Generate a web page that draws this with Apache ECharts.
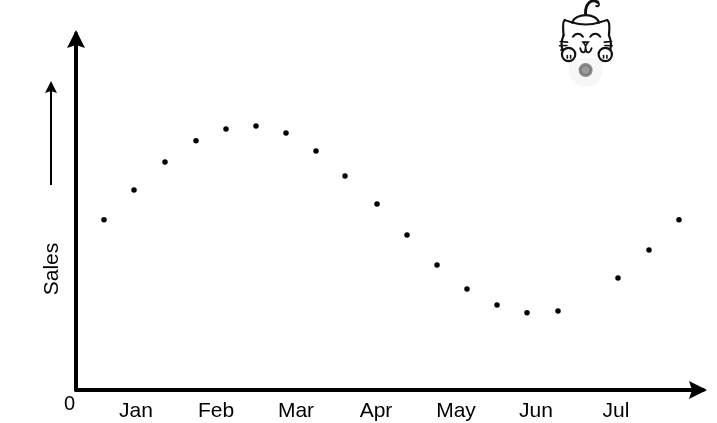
<!DOCTYPE html>
<html><head><meta charset="utf-8">
<style>html,body{margin:0;padding:0;background:#fff}#c{width:717px;height:423px}</style>
<script src="https://cdn.jsdelivr.net/npm/echarts@6/dist/echarts.min.js"></script>
</head><body><div id="c"></div>
<script>
const months = ['Jan','Feb','Mar','Apr','May','Jun','Jul'];
const monthPos = [1,2,3,4,5,6,7];
const xValues = [0.6,0.975,1.3625,1.75,2.125,2.5,2.875,3.25,3.6125,4.0125,4.3875,4.7625,5.1375,5.5125,5.8875,6.275,7.025,7.4125,7.7875];
const sales = [47.4,55.7,63.5,69.4,72.7,73.5,71.6,66.6,59.6,51.8,43.2,34.8,28.1,23.7,21.5,22.0,31.2,39.0,47.4];
const catPoint = [[6.62,89.1]];
const yAxisName = 'Sales';

const chart = echarts.init(document.getElementById('c'), null, {renderer:'canvas'});
const FONT = 'Liberation Sans';
const ARROW = 'path://M9 0 L18 18 L9 15 L0 18 Z';
const Z = v => v / 3;
function line(x1,y1,x2,y2,w){return {type:'line',shape:{x1:Z(x1),y1:Z(y1),x2:Z(x2),y2:Z(y2)},style:{stroke:'#111',lineWidth:w||2,lineCap:'round',fill:null}};}
function bez(x1,y1,a,b,c,d,x2,y2,w){return {type:'bezierCurve',shape:{x1:Z(x1),y1:Z(y1),cpx1:Z(a),cpy1:Z(b),cpx2:Z(c),cpy2:Z(d),x2:Z(x2),y2:Z(y2)},style:{stroke:'#111',lineWidth:w||2,lineCap:'round',fill:null}};}
function renderCat(params, api){
  const p = api.coord([api.value(0), api.value(1)]);
  const kids = [
    {type:'circle',shape:{cx:0,cy:0,r:17},style:{fill:'#f7f7f7'}},
    {type:'circle',shape:{cx:0,cy:0,r:7},style:{fill:'#8a8a8a'}},
    {type:'circle',shape:{cx:0,cy:0,r:4.6},style:{fill:'#9a9a9a',stroke:'#6e6e6e',lineWidth:1}},
    {type:'polygon',shape:{points:[[-64,-149],[-40,-143],[0,-168],[40,-143],[69,-149],[75,-60],[60,-36],[-60,-36],[-72,-60]].map(q=>[Z(q[0]),Z(q[1])])},style:{fill:'#fff'}},
    bez(0,-168,-2,-200,18,-215,36,-204,3),
    bez(36,-204,44,-198,40,-190,32,-192,2),
    bez(-40,-143,-30,-172,32,-172,40,-143,2.2),
    bez(-40,-143,-15,-135,18,-135,40,-143,2),
    line(-40,-143,-62,-150),
    bez(-62,-150,-68,-148,-68,-125,-66,-105,2.2),
    line(40,-143,64,-150),
    bez(64,-150,72,-148,72,-125,70,-105,2.2),
    bez(-66,-105,-72,-90,-76,-75,-68,-58,2.2),
    bez(70,-105,76,-90,80,-75,72,-58,2.2),
    bez(-38,-100,-30,-112,-16,-112,-8,-100,2),
    bez(14,-100,22,-112,36,-112,44,-100,2),
    {type:'polygon',shape:{points:[[-8,-84],[8,-84],[0,-74]].map(q=>[Z(q[0]),Z(q[1])])},style:{fill:'#fff',stroke:'#111',lineWidth:1.6}},
    line(0,-74,0,-62,1.8),
    bez(-16,-66,-14,-50,-2,-50,0,-62,1.8),
    bez(0,-62,2,-50,14,-50,18,-66,1.8),
    line(-76,-86,-54,-84,1.6), line(-78,-73,-56,-74,1.6), line(-74,-60,-58,-64,1.6),
    line(56,-84,78,-86,1.6), line(58,-74,80,-73,1.6), line(60,-64,76,-60,1.6),
    {type:'circle',shape:{cx:Z(-51),cy:Z(-47),r:Z(20)},style:{fill:'#fff',stroke:'#111',lineWidth:2.2}},
    {type:'circle',shape:{cx:Z(59),cy:Z(-47),r:Z(20)},style:{fill:'#fff',stroke:'#111',lineWidth:2.2}},
    line(-55,-44,-55,-36,1.6), line(-45,-44,-45,-36,1.6),
    line(54,-44,54,-36,1.6), line(64,-44,64,-36,1.6)
  ];
  return {type:'group',x:p[0],y:p[1],children:kids};
}
chart.setOption({
  animation:false,
  backgroundColor:'#fff',
  grid:{left:76,right:14,top:34,bottom:33,containLabel:false,outerBoundsMode:'none'},
  xAxis:{type:'value',min:0.25,max:8.0875,
    axisLine:{show:true,onZero:false,symbol:['none',ARROW],symbolSize:[18,18],symbolOffset:[0,-5],lineStyle:{color:'#000',width:4}},
    axisTick:{show:false},splitLine:{show:false},
    axisLabel:{customValues:monthPos,formatter:v=>months[Math.round(v)-1],color:'#000',fontFamily:FONT,fontSize:21,margin:11}
  },
  yAxis:{type:'value',min:0,max:99.16,
    axisLine:{show:true,onZero:false,symbol:['none',ARROW],symbolSize:[18,18],symbolOffset:[0,-5],lineStyle:{color:'#000',width:4}},
    axisTick:{show:false},splitLine:{show:false},
    axisLabel:{customValues:[0],color:'#000',fontFamily:FONT,fontSize:20,margin:1,verticalAlign:'top',padding:[4,0,0,0]}
  },
  graphic:[
    {type:'line',shape:{x1:51,y1:185,x2:51,y2:90},style:{stroke:'#000',lineWidth:2}},
    {type:'polygon',shape:{points:[[51,81],[45,93],[51,91],[57,93]]},style:{fill:'#000'}},
    {type:'text',x:52,y:269,rotation:Math.PI/2,style:{text:yAxisName,font:'21px "Liberation Sans"',fill:'#000',align:'center',verticalAlign:'middle'}}
  ],
  series:[
    {type:'scatter',data:xValues.map((x,i)=>[x,sales[i]]),symbol:'circle',symbolSize:5.5,itemStyle:{color:'#000',opacity:1},silent:true,clip:false},
    {type:'custom',data:catPoint,renderItem:renderCat,clip:false,silent:true}
  ]
});
</script></body></html>
